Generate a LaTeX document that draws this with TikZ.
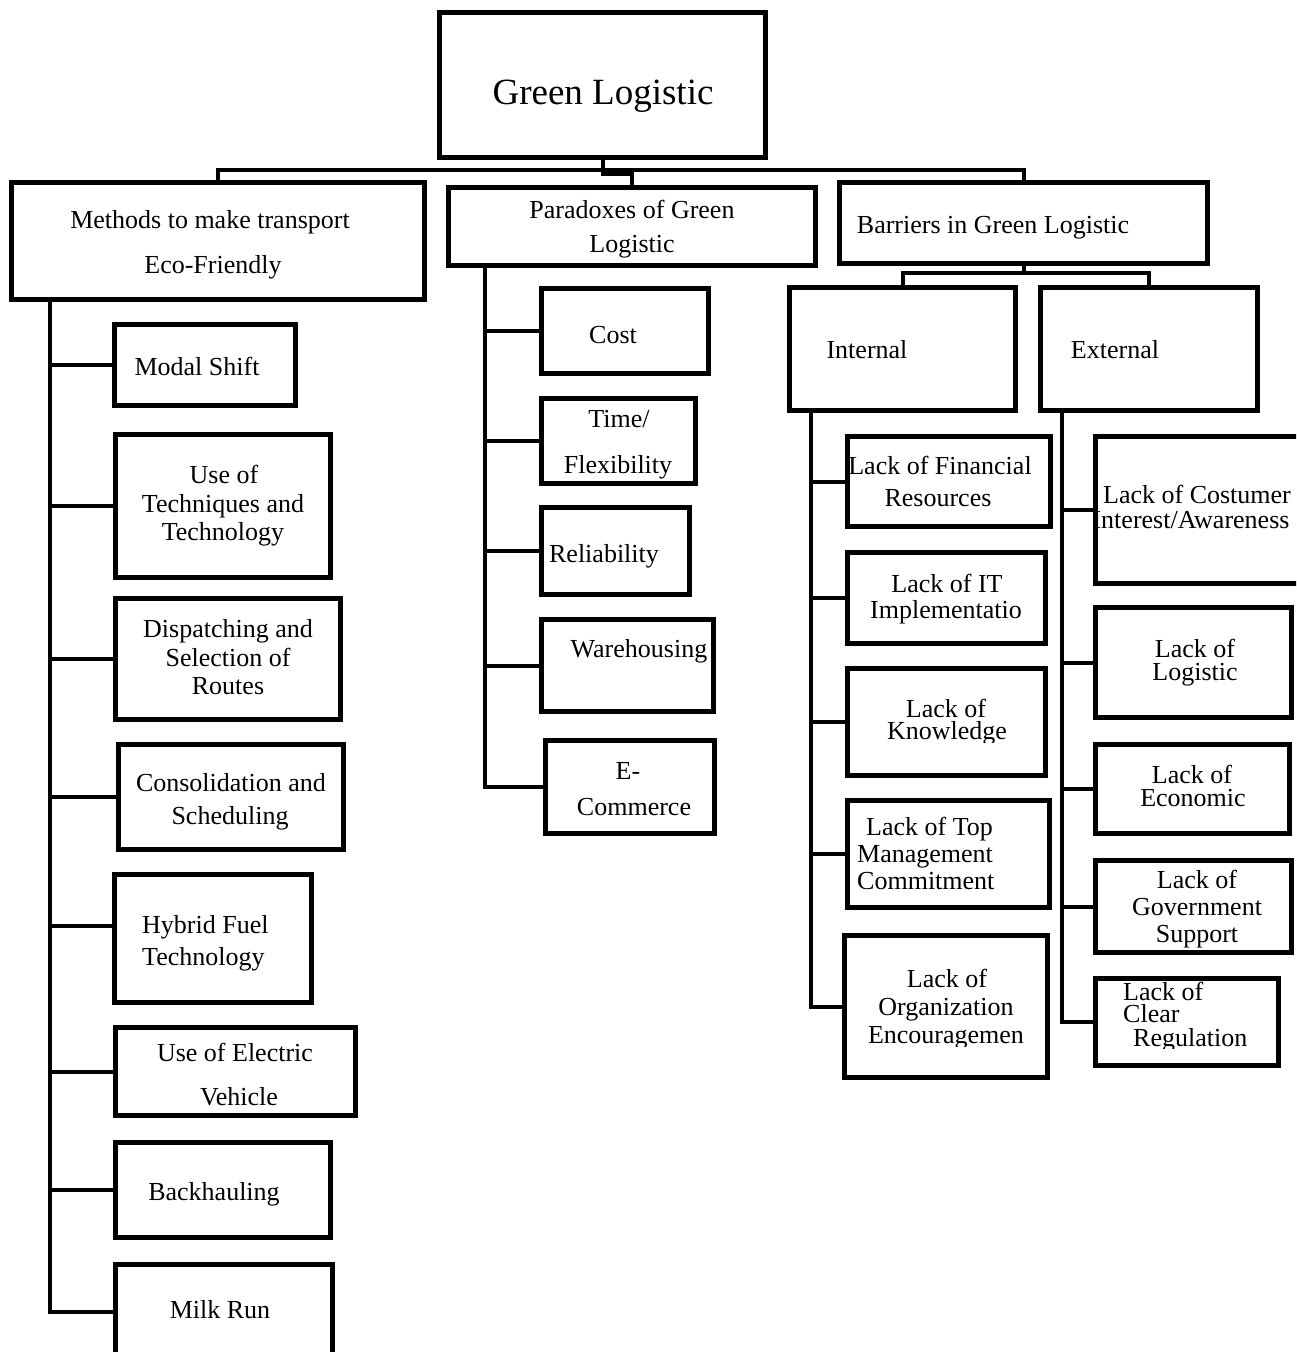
\documentclass[tikz,border=0pt]{standalone}
\usepackage{fontspec}
\setmainfont{Liberation Serif}
\usetikzlibrary{fit,calc}
\tikzset{
  box/.style={draw, line width=4.5pt, inner sep=0pt, outer sep=0pt},
  conn/.style={line width=4pt},
  txt/.style={inner sep=0pt, font=\fontsize{26}{30}\selectfont, anchor=base},
  txtl/.style={txt, anchor=base west},
}
\newcommand\bx[5]{\node[box, fit={({#2+2.3},{#3+2.3}) ({#4-2.3},{#5-2.3})}] (#1) {};}
\begin{document}
\begin{tikzpicture}[x=1pt,y=-1pt]
\useasboundingbox (0,0) rectangle (1296,1352);
\fill[white] (0,0) rectangle (1296,1352);
\clip (0,0) rectangle (1296,1352);

% boxes
\bx{gl}{437}{10}{768}{160}
\bx{meth}{9}{180}{427}{302}
\bx{modal}{112}{322}{298}{408}
\bx{tech}{113}{432}{333}{580}
\bx{disp}{113}{596}{343}{722}
\bx{cons}{116}{742}{346}{852}
\bx{hyb}{112}{872}{314}{1005}
\bx{elec}{113}{1025}{358}{1118}
\bx{back}{113}{1140}{333}{1240}
\bx{milk}{113}{1262}{335}{1362}
\bx{par}{446}{185}{818}{268}
\bx{cost}{539}{286}{711}{376}
\bx{time}{539}{396}{698}{486}
\bx{rel}{539}{505}{692}{597}
\bx{ware}{539}{617}{716}{714}
\bx{ecom}{543}{738}{717}{836}
\bx{barr}{837}{180}{1210}{266}
\bx{int}{787}{285}{1018}{413}
\bx{ext}{1038}{285}{1260}{413}
\bx{fin}{845}{434}{1053}{529}
\bx{itb}{845}{550}{1048}{646}
\bx{know}{845}{666}{1048}{778}
\bx{topm}{845}{798}{1052}{910}
\bx{org}{842}{933}{1050}{1080}
\bx{cust}{1093}{434}{1310}{586}
\bx{logi}{1093}{605}{1294}{720}
\bx{econ}{1093}{742}{1292}{836}
\bx{gov}{1093}{858}{1294}{955}
\bx{clr}{1093}{976}{1281}{1068}

% texts
\node[txt, font=\fontsize{37}{40}\selectfont] (gl-t) at (603,104) {Green Logistic};
\node[txt] (meth-t1) at (210,228) {Methods to make transport};
\node[txt] (meth-t2) at (213,273) {Eco-Friendly};
\node[txt] (modal-t) at (197,375) {Modal Shift};
\node[txt] (tech-t1) at (224,483) {Use of};
\node[txt] (tech-t2) at (223,512) {Techniques and};
\node[txt] (tech-t3) at (223,540) {Technology};
\node[txt] (disp-t1) at (228,637) {Dispatching and};
\node[txt] (disp-t2) at (228,666) {Selection of};
\node[txt] (disp-t3) at (228,694) {Routes};
\node[txt] (cons-t1) at (231,791) {Consolidation and};
\node[txt] (cons-t2) at (230,824) {Scheduling};
\node[txtl] (hyb-t1) at (142,933) {Hybrid Fuel};
\node[txtl] (hyb-t2) at (142,965) {Technology};
\node[txt] (elec-t1) at (235,1061) {Use of Electric};
\node[txt] (elec-t2) at (239,1105) {Vehicle};
\node[txt] (back-t) at (214,1200) {Backhauling};
\node[txt] (milk-t) at (220,1318) {Milk Run};

\node[txt] (par-t1) at (632,218) {Paradoxes of Green};
\node[txt] (par-t2) at (632,252) {Logistic};
\node[txt] (cost-t) at (613,343) {Cost};
\node[txt] (time-t1) at (619,427) {Time/};
\node[txt] (time-t2) at (618,473) {Flexibility};
\node[txt] (rel-t) at (604,562) {Reliability};
\node[txt] (ware-t) at (639,657) {Warehousing};
\node[txt] (ecom-t1) at (628,779) {E-};
\node[txt] (ecom-t2) at (634,815) {Commerce};

\node[txt] (barr-t) at (993,233) {Barriers in Green Logistic};
\node[txt] (int-t) at (867,358) {Internal};
\node[txt] (ext-t) at (1115,358) {External};
\node[txt] (fin-t1) at (940,474) {Lack of Financial};
\node[txt] (fin-t2) at (938,506) {Resources};
\node[txt] (itb-t1) at (947,592) {Lack of IT};
\node[txt] (itb-t2) at (946,618) {Implementatio};
\node[txt] (know-t1) at (946,717) {Lack of};
\begin{scope}
\clip (850,700) rectangle (1040,742);
\node[txt] (know-t2) at (947,739) {Knowledge};
\end{scope}
\node[txtl] (topm-t1) at (866,835) {Lack of Top};
\node[txtl] (topm-t2) at (857,862) {Management};
\node[txtl] (topm-t3) at (857,889) {Commitment};
\node[txt] (org-t1) at (947,987) {Lack of};
\node[txt] (org-t2) at (946,1015) {Organization};
\begin{scope}
\clip (850,1020) rectangle (1040,1046);
\node[txt] (org-t3) at (946,1043) {Encouragemen};
\end{scope}
\node[txt] (cust-t1) at (1197,503) {Lack of Costumer};
\node[txt] (cust-t2) at (1191,528) {Interest/Awareness};
\node[txt] (logi-t1) at (1195,657) {Lack of};
\node[txt] (logi-t2) at (1195,680) {Logistic};
\node[txt] (econ-t1) at (1192,783) {Lack of};
\node[txt] (econ-t2) at (1193,806) {Economic};
\node[txt] (gov-t1) at (1197,888) {Lack of};
\node[txt] (gov-t2) at (1197,915) {Government};
\node[txt] (gov-t3) at (1197,942) {Support};
\node[txtl] (clr-t1) at (1123,1000) {Lack of};
\node[txtl] (clr-t2) at (1123,1022) {Clear};
\begin{scope}
\clip (1100,1025) rectangle (1275,1048);
\node[txtl] (clr-t3) at (1133,1046) {Regulation};
\end{scope}

% top connectors
\coordinate (busc) at (602,170);
\draw[conn] (meth.north) -- (meth.north |- busc) -- (barr.north |- busc) -- (barr.north);
\draw[conn] (gl.south) -- ++(0,16) -| (par.north);
% barriers sub
\draw[conn] (barr.south) -- ++(0,9) coordinate (bb);
\draw[conn] (int.north) -- (int.north |- bb) -- (ext.north |- bb) -- (ext.north);

% trunks
\coordinate (lt) at (50,0);
\coordinate (mt) at (485,0);
\coordinate (itr) at (811,0);
\coordinate (etr) at (1062,0);
\coordinate (hybc) at ([yshift=13pt]hyb.west);
\draw[conn] (lt |- meth.south) |- (milk.west);
\foreach \n in {modal,tech,disp,cons,elec,back} \draw[conn] (lt |- \n.west) -- (\n.west);
\draw[conn] (lt |- hybc) -- (hybc);
\draw[conn] (mt |- par.south) |- (ecom.west);
\foreach \n in {cost,time,rel,ware} \draw[conn] (mt |- \n.west) -- (\n.west);
\draw[conn] (itr |- int.south) |- (org.west);
\foreach \n in {fin,itb,know,topm} \draw[conn] (itr |- \n.west) -- (\n.west);
\draw[conn] (etr |- ext.south) |- (clr.west);
\foreach \n in {cust,logi,econ,gov} \draw[conn] (etr |- \n.west) -- (\n.west);
\end{tikzpicture}
\end{document}
